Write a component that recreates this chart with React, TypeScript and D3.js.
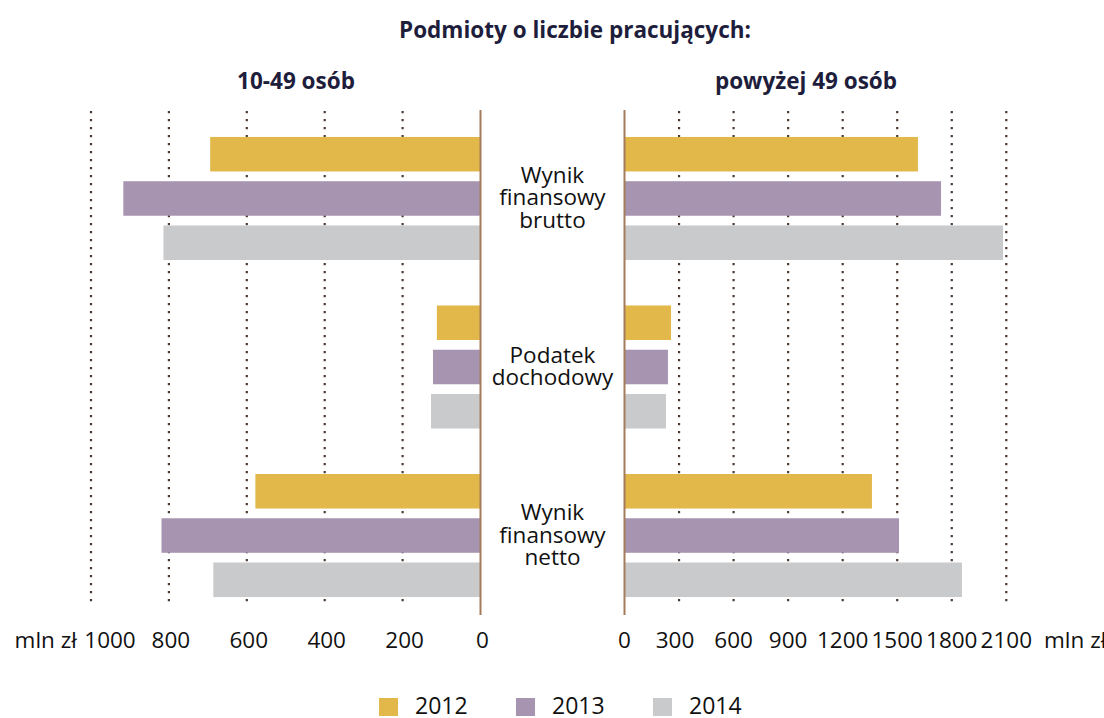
import * as d3 from "d3";

const categories = ["brutto", "podatek", "netto"];
const categoryLines = [["Wynik", "finansowy", "brutto"], ["Podatek", "dochodowy"], ["Wynik", "finansowy", "netto"]];
const years = ["2012", "2013", "2014"];

// 10-49 osób, mln zł
const left2012 = [694, 112, 578];
const left2013 = [917, 122, 819];
const left2014 = [814, 127, 686];
// powyżej 49 osób, mln zł
const right2012 = [1614, 256, 1361];
const right2013 = [1741, 239, 1510];
const right2014 = [2082, 228, 1856];

const leftTicks = [0, 200, 400, 600, 800, 1000];
const rightTicks = [0, 300, 600, 900, 1200, 1500, 1800, 2100];

const colors = ["#E2B84A", "#A794B0", "#C9CACC"];

export default function App() {
  const width = 1104;
  const height = 718;
  const font = "'Open Sans', Lato, sans-serif";

  const xLeft = d3.scaleLinear().domain([0, 1000]).range([480.5, 91]);
  const xRight = d3.scaleLinear().domain([0, 2100]).range([624.5, 1006.3]);

  const y = d3.scaleBand().domain(categories).range([110, 624]).paddingInner(0.27).paddingOuter(0.16);
  const yInner = d3.scaleBand().domain(years).range([0, y.bandwidth()]).paddingInner(0.22);

  const leftSeries = [left2012, left2013, left2014];
  const rightSeries = [right2012, right2013, right2014];

  const gridTop = 111;
  const gridBottom = 607;
  const midX = (xLeft(0) + xRight(0)) / 2;

  return (
    <svg width={width} height={height} style={{ position: "absolute", left: 0, top: 0 }} fontFamily={font}>
      <g fontWeight="bold" fontSize={22.5} fill="#1E1E3C" textAnchor="middle">
        <text x={575} y={38}>Podmioty o liczbie pracujących:</text>
        <text x={296} y={89}>10-49 osób</text>
        <text x={806} y={89}>powyżej 49 osób</text>
      </g>

      {/* dotted gridlines */}
      <g stroke="#4A3B33" strokeWidth={2.2} strokeDasharray="2.2,5.8">
        {leftTicks.filter((t) => t > 0).map((t) => (
          <line key={"l" + t} x1={xLeft(t)} x2={xLeft(t)} y1={gridTop} y2={gridBottom} />
        ))}
        {rightTicks.filter((t) => t > 0).map((t) => (
          <line key={"r" + t} x1={xRight(t)} x2={xRight(t)} y1={gridTop} y2={gridBottom} />
        ))}
      </g>

      {/* bars */}
      {categories.map((c, ci) => (
        <g key={c} transform={`translate(0,${y(c)})`}>
          {years.map((yr, yi) => (
            <g key={yr}>
              <rect
                x={xLeft(leftSeries[yi][ci])}
                y={yInner(yr)}
                width={xLeft(0) - xLeft(leftSeries[yi][ci])}
                height={yInner.bandwidth()}
                fill={colors[yi]}
              />
              <rect
                x={xRight(0)}
                y={yInner(yr)}
                width={xRight(rightSeries[yi][ci]) - xRight(0)}
                height={yInner.bandwidth()}
                fill={colors[yi]}
              />
            </g>
          ))}
        </g>
      ))}

      {/* central axes */}
      <line x1={xLeft(0)} x2={xLeft(0)} y1={110} y2={615} stroke="#A57C5B" strokeWidth={2} />
      <line x1={xRight(0)} x2={xRight(0)} y1={110} y2={615} stroke="#A57C5B" strokeWidth={2} />

      {/* category labels */}
      {categories.map((c, ci) => {
        const lines = categoryLines[ci];
        const cy = (y(c) ?? 0) + y.bandwidth() / 2;
        const lh = 22.5;
        return (
          <text key={c} textAnchor="middle" fontSize={22.5} fill="#111">
            {lines.map((l, li) => (
              <tspan key={li} x={midX} y={cy + (li - (lines.length - 1) / 2) * lh + 7}>
                {l}
              </tspan>
            ))}
          </text>
        );
      })}

      {/* tick labels */}
      <g fontSize={22.5} fill="#111" textAnchor="middle">
        {leftTicks.map((t) => (
          <text key={"lt" + t} x={xLeft(t)} dx={t === 1000 ? 19 : 2} y={648}>
            {t}
          </text>
        ))}
        {rightTicks.map((t) => (
          <text key={"rt" + t} x={xRight(t)} dx={t === 300 ? -4 : 0} y={648}>
            {t}
          </text>
        ))}
        <text x={77} y={648} textAnchor="end">mln zł</text>
        <text x={1044} y={648} textAnchor="start">mln zł</text>
      </g>

      {/* legend */}
      <g fontSize={23} fill="#111">
        {years.map((yr, i) => (
          <g key={yr} transform={`translate(${379 + i * 137},698)`}>
            <rect x={0} y={0} width={19} height={18} fill={colors[i]} />
            <text x={36} y={16}>{yr}</text>
          </g>
        ))}
      </g>
    </svg>
  );
}
